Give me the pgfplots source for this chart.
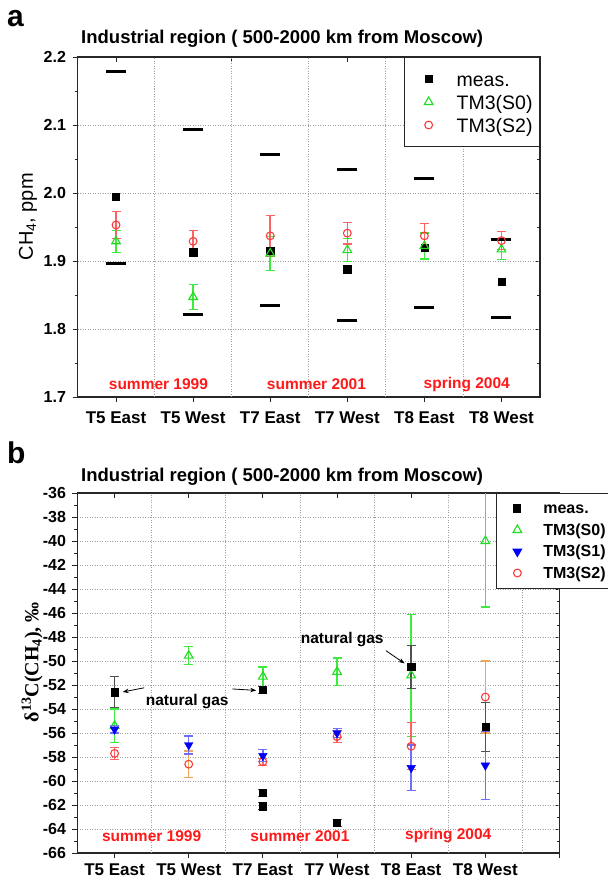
\documentclass[border=0pt]{standalone}
\usepackage{pgfplots}
\pgfplotsset{compat=1.18}
\usepackage{fontspec}
\setmainfont{Liberation Sans}
\newfontfamily\seriffont{Liberation Serif}
\usetikzlibrary{arrows.meta}

\definecolor{cgreen}{RGB}{30,220,30}
\definecolor{cgreenl}{RGB}{60,235,60}
\definecolor{cred}{RGB}{250,60,60}
\definecolor{credl}{RGB}{250,100,100}
\definecolor{cblue}{RGB}{0,0,245}
\definecolor{cbluel}{RGB}{110,110,250}
\definecolor{corange}{RGB}{240,165,85}
\definecolor{cgrid}{RGB}{160,160,160}
\definecolor{cseason}{RGB}{255,25,25}
\definecolor{cmeasl}{RGB}{80,80,80}

\pgfplotsset{
  panel/.style={
    scale only axis, xmin=-0.5,
    axis line style={line width=1.3pt, black!85},
    tick align=outside, xtick pos=left, ytick pos=left,
    major tick length=5pt, minor tick length=3pt,
    every tick/.style={line width=1pt, black!85},
    /pgf/number format/assume math mode=true,
    ticklabel style={font=\fontsize{16}{19}\selectfont\bfseries},
    xticklabel style={font=\fontsize{17}{20}\selectfont\bfseries},
    yticklabel style={xshift=-3pt},
    ymajorgrids=true,
    major grid style={line width=0.8pt, cgrid, dash pattern=on 1pt off 1.5pt},
  },
  frame/.style={
    scale only axis, xmin=-0.5,
    axis line style={line width=1.3pt, black!85},
    tick align=inside, xtick pos=right, ytick pos=right,
    major tick length=5pt, minor tick length=3pt,
    every tick/.style={line width=1pt, black!85},
    xticklabels={}, yticklabels={},
  },
  pm/.style={only marks, legend image code/.code={%
     \pgfpathmoveto{\pgfpoint{0pt}{0pt}}\pgfpathlineto{\pgfpoint{24pt}{0pt}}\pgfusepath{}%
     \draw[mark repeat=2,mark phase=2,##1] plot coordinates {(0pt,0pt) (18pt,0pt) (24pt,0pt)};}},
  eb/.style={error bars/.cd, y dir=both, y explicit,
     error bar style={line width=1.5pt, #1},
     error mark options={rotate=90, mark size=4.5pt, line width=1.3pt, #1}},
}
\tikzset{vgrid/.style={line width=0.8pt, cgrid, dash pattern=on 1pt off 1.5pt}}

\begin{document}
\begin{tikzpicture}
% ---------------- panel a ----------------
\node[anchor=base west, inner sep=0, font=\fontsize{30}{34}\selectfont\bfseries] at (7pt,-26pt) {a};
\node[anchor=base west, inner sep=0, font=\fontsize{18.5}{22}\selectfont\bfseries] at (81pt,-43.3pt) {Industrial region ( 500-2000 km from Moscow)};

\begin{axis}[frame, at={(77.5pt,-57pt)}, anchor=north west, width=462.5pt, height=340pt,
  xmax=5.5, ymin=1.7, ymax=2.2, xtick={0,1.5,3,4.5}, ytick={1.7,1.8,1.9,2.0,2.1,2.2}, minor y tick num=1]
\end{axis}

\begin{axis}[panel, at={(77.5pt,-57pt)}, anchor=north west, width=462.5pt, height=340pt,
  xmax=5.5, ymin=1.7, ymax=2.2,
  xtick={0,...,5}, xticklabels={T5 East,T5 West,T7 East,T7 West,T8 East,T8 West},
  xticklabel style={yshift=-6pt},
  ytick={1.7,1.8,1.9,2.0,2.1,2.2}, minor y tick num=1,
  yticklabel style={/pgf/number format/.cd, fixed, fixed zerofill, precision=1, /tikz/.cd},
  ylabel={CH\textsubscript{4}, ppm},
  ylabel style={at={(axis description cs:-0.107,0.53)}, anchor=center, font=\fontsize{20}{24}\selectfont},
  legend style={at={(1,1)}, anchor=north east, draw=black!85, line width=1pt, fill=white,
     inner xsep=6pt, inner ysep=10pt, font=\fontsize{19.5}{23}\selectfont, row sep=0pt,
     nodes={inner sep=1pt, text height=18pt, text depth=3pt},
     /tikz/every odd column/.append style={column sep=21pt}},
  legend cell align=left,
]
\pgfplotsinvokeforeach{0.5,1.5,2.5,3.5,4.5}{\draw[vgrid] (axis cs:#1,1.7) -- (axis cs:#1,2.2);}
\addplot[pm, mark=-, mark size=10pt, line width=3pt, black, forget plot] coordinates {
 (0,2.179)(0,1.897)(1,2.094)(1,1.822)(2,2.057)(2,1.834)(3,2.035)(3,1.813)(4,2.022)(4,1.831)(5,1.932)(5,1.817)};
\addplot[pm, mark=square*, mark size=3.6pt, black] coordinates {
 (0,1.994)(1,1.913)(2,1.915)(3,1.888)(4,1.919)(5,1.870)};
\addlegendentry{meas.}
\addplot[pm, mark=triangle, mark size=5pt, cgreen, mark options={line width=1.1pt}, eb=cgreenl] coordinates {
 (0,1.929) +- (0,0.016)
 (1,1.847) +- (0,0.018)
 (2,1.911) +- (0,0.025)
 (3,1.916) +- (0,0.017)
 (4,1.922) +- (0,0.019)
 (5,1.917) +- (0,0.015)};
\addlegendentry{TM3(S0)}
\addplot[pm, mark=o, mark size=3.9pt, cred, mark options={line width=1.1pt}, eb=credl] coordinates {
 (0,1.953) +- (0,0.020)
 (1,1.929) +- (0,0.016)
 (2,1.937) +- (0,0.030)
 (3,1.941) +- (0,0.016)
 (4,1.937) +- (0,0.018)
 (5,1.930) +- (0,0.013)};
\addlegendentry{TM3(S2)}
\node[font=\fontsize{15.5}{18}\selectfont\bfseries, text=cseason] at (axis cs:0.55,1.719) {summer 1999};
\node[font=\fontsize{15.5}{18}\selectfont\bfseries, text=cseason] at (axis cs:2.6,1.719) {summer 2001};
\node[font=\fontsize{15.5}{18}\selectfont\bfseries, text=cseason] at (axis cs:4.55,1.719) {spring 2004};
\end{axis}

% ---------------- panel b ----------------
\node[anchor=base west, inner sep=0, font=\fontsize{30}{34}\selectfont\bfseries] at (7pt,-463pt) {b};
\node[anchor=base west, inner sep=0, font=\fontsize{18.5}{22}\selectfont\bfseries] at (81pt,-481.7pt) {Industrial region ( 500-2000 km from Moscow)};

\begin{axis}[frame, at={(77.5pt,-493pt)}, anchor=north west, width=482pt, height=360pt,
  xmax=6, ymin=-66, ymax=-36, xtick={0,...,5}, ytick={-66,-64,...,-36}, minor y tick num=1]
\end{axis}

\begin{axis}[panel, at={(77.5pt,-493pt)}, anchor=north west, width=482pt, height=360pt,
  xmax=6, ymin=-66, ymax=-36,
  xtick={0,...,6}, xticklabels={T5 East,T5 West,T7 East,T7 West,T8 East,T8 West,{}},
  xticklabel style={yshift=-2pt},
  ytick={-66,-64,...,-36}, minor y tick num=1,
  ylabel={\seriffont\bfseries δ\textsuperscript{13}C(CH\textsubscript{4}), ‰},
  ylabel style={at={(axis description cs:-0.094,0.53)}, anchor=center, font=\fontsize{20}{24}\selectfont},
  legend style={at={(0.868,1)}, anchor=north west, draw=black!85, line width=1pt, fill=white,
     inner xsep=3pt, inner ysep=5pt, font=\fontsize{16}{19}\selectfont\bfseries, row sep=1.5pt,
     nodes={inner sep=1pt, text height=14pt, text depth=4pt},
     /tikz/every odd column/.append style={column sep=19pt}},
  legend cell align=left,
]
\pgfplotsinvokeforeach{0.5,1.5,2.5,3.5,4.5,5.5}{\draw[vgrid] (axis cs:#1,-66) -- (axis cs:#1,-36);}
\addlegendimage{pm, mark=square*, mark size=3.6pt, black}
\addlegendentry{meas.}
\addlegendimage{pm, mark=triangle, mark size=5pt, cgreen, mark options={line width=1.1pt}}
\addlegendentry{TM3(S0)}
\addlegendimage{pm, mark=triangle*, mark size=5pt, cblue, mark options={rotate=180}}
\addlegendentry{TM3(S1)}
\addlegendimage{pm, mark=o, mark size=3.9pt, cred, mark options={line width=1.1pt}}
\addlegendentry{TM3(S2)}

\addplot[pm, forget plot, mark=triangle, mark size=5pt, cgreen, mark options={line width=1.1pt}, eb=cgreenl] coordinates {
 (0,-55.4) +- (0,1.4)
 (1,-49.55) +- (0,0.75)
 (2,-51.3) +- (0,0.8)
 (3,-50.9) +- (0,1.15)
 (4,-51.2) +- (0,5.1)
 (5,-40.0) +- (0,5.5)};
\addplot[pm, forget plot, mark=o, mark size=3.9pt, cred, mark options={line width=1.1pt}, eb=credl] coordinates {
 (0,-57.7) +- (0,0.5)
 (2,-58.4) +- (0,0.3)
 (3,-56.3) +- (0,0.5)
 (4,-57.1) +- (0,1.95)};
\addplot[pm, forget plot, mark=o, mark size=3.9pt, cred, mark options={line width=1.1pt}, eb=corange] coordinates {
 (1,-58.6) +- (0,1.1)
 (5,-53.0) +- (0,3.0)};
\addplot[pm, forget plot, mark=triangle*, mark size=5pt, cblue, mark options={rotate=180}, eb=cbluel] coordinates {
 (0,-55.7) +- (0,0.3)
 (1,-57.0) +- (0,0.75)
 (2,-57.9) +- (0,0.5)
 (3,-56.0) +- (0,0.4)
 (4,-58.9) +- (0,1.9)
 (5,-58.7) +- (0,2.85)};
\addplot[pm, forget plot, mark=square*, mark size=3.6pt, black, eb=cmeasl] coordinates {
 (0,-52.6) +- (0,1.3)
 (2,-52.4) +- (0,0.3)
 (2,-61.0) +- (0,0.3)
 (2,-62.1) +- (0,0.3)
 (3,-63.5) +- (0,0.3)
 (4,-50.5) +- (0,1.8)
 (5,-55.5) +- (0,2.05)};

\draw[-{Stealth[length=6pt,width=4.5pt]}, line width=0.8pt] (axis cs:0.40,-52.23) -- (axis cs:0.11,-52.58);
\draw[-{Stealth[length=6pt,width=4.5pt]}, line width=0.8pt] (axis cs:1.59,-52.33) -- (axis cs:1.91,-52.45);
\draw[-{Stealth[length=6pt,width=4.5pt]}, line width=0.8pt] (axis cs:3.66,-49.14) -- (axis cs:3.91,-50.2);
\node[font=\fontsize{15.5}{18}\selectfont\bfseries] at (axis cs:0.98,-53.35) {natural gas};
\node[font=\fontsize{15.5}{18}\selectfont\bfseries] at (axis cs:3.07,-48.25) {natural gas};

\node[font=\fontsize{15.5}{18}\selectfont\bfseries, text=cseason] at (axis cs:0.5,-64.56) {summer 1999};
\node[font=\fontsize{15.5}{18}\selectfont\bfseries, text=cseason] at (axis cs:2.5,-64.56) {summer 2001};
\node[font=\fontsize{15.5}{18}\selectfont\bfseries, text=cseason] at (axis cs:4.5,-64.56) {spring 2004};
\end{axis}

\pgfresetboundingbox
\path[use as bounding box] (0pt,0pt) rectangle (608pt,-884pt);
\end{tikzpicture}
\end{document}
